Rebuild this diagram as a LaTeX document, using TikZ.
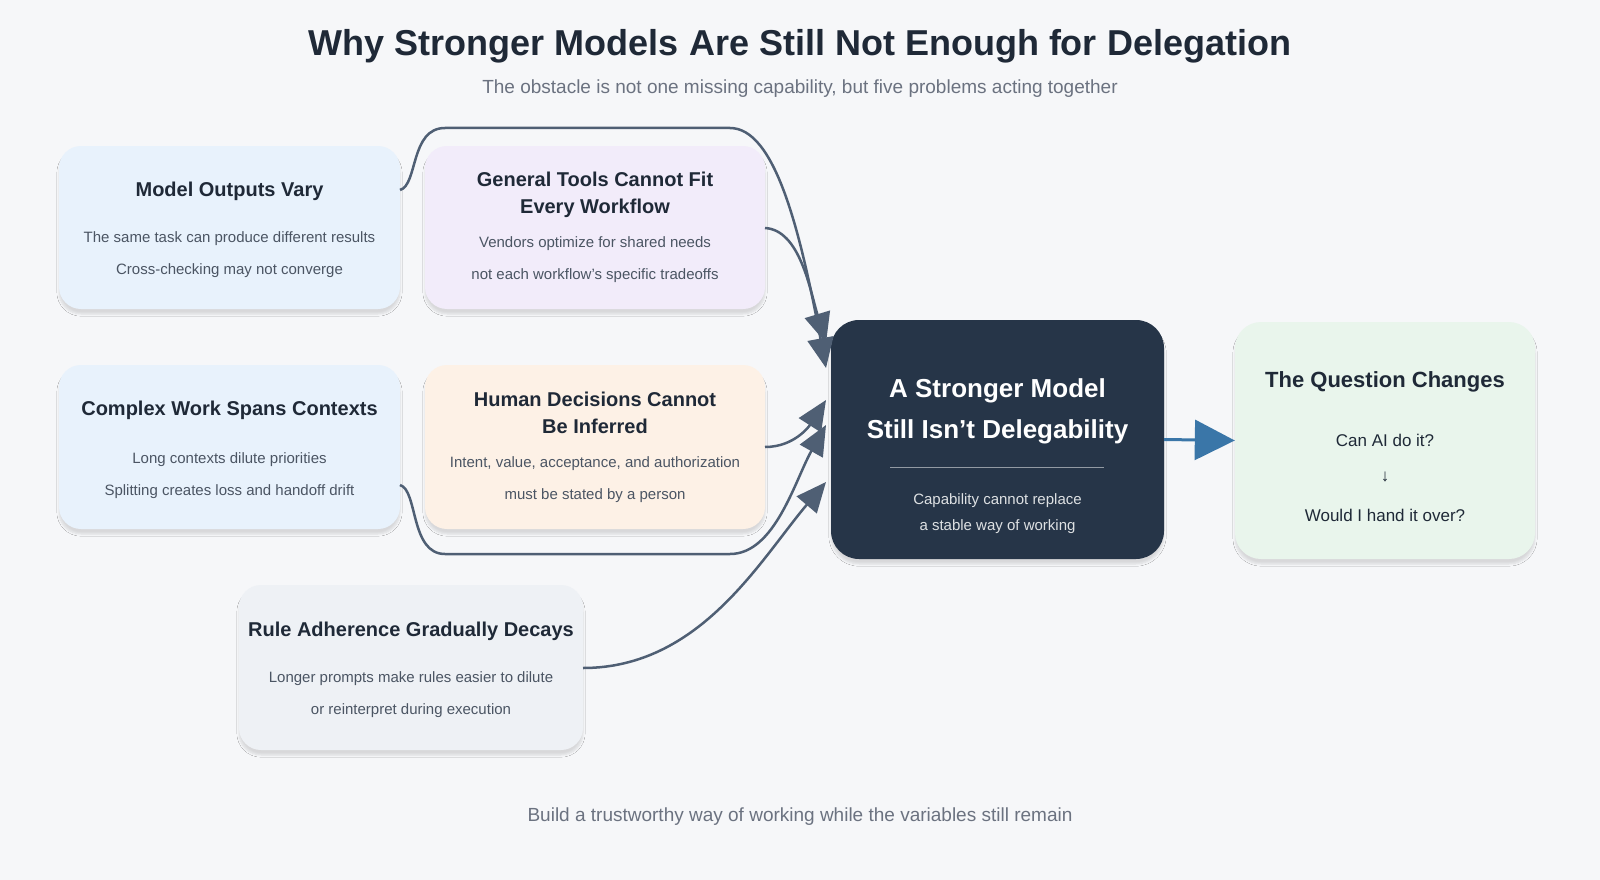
\documentclass[tikz,border=0pt]{standalone}
\usepackage{fontspec}
\setmainfont{Liberation Sans}
\usetikzlibrary{arrows.meta,shadows.blur}
\definecolor{bg}{HTML}{F6F7F9}
\definecolor{ink}{HTML}{1F2937}
\definecolor{sub}{HTML}{4B5563}
\definecolor{mute}{HTML}{6B7280}
\definecolor{cblue}{HTML}{E8F2FC}
\definecolor{cpurp}{HTML}{F2ECFA}
\definecolor{cpeach}{HTML}{FDF1E6}
\definecolor{cgray}{HTML}{EEF1F5}
\definecolor{cgreen}{HTML}{E9F5EC}
\definecolor{dark}{HTML}{263548}
\definecolor{conn}{HTML}{4F5F74}
\definecolor{arrblue}{HTML}{3A76A8}
\tikzset{
  x=1pt,y=1pt,
  box/.style={rounded corners=22pt, draw=none, blur shadow={shadow blur steps=6, shadow xshift=0pt, shadow yshift=-5pt, shadow opacity=12}},
  ttl/.style={font=\bfseries\fontsize{20}{27}\selectfont, text=ink, align=center},
  dsc/.style={font=\fontsize{15}{32}\selectfont, text=sub, align=center},
  link/.style={draw=conn, line width=2.5pt, -{Triangle[length=30pt,width=26pt]}},
}
\begin{document}
\begin{tikzpicture}
\useasboundingbox[fill=bg] (0,0) rectangle (1600,-880);
\node[font=\bfseries\fontsize{36}{40}\selectfont, text=ink] (title) at (800,-46) {Why Stronger Models Are Still Not Enough for Delegation};
\node[font=\fontsize{19}{22}\selectfont, text=mute] (subt) at (800,-89) {The obstacle is not one missing capability, but five problems acting together};

\node[box, fill=cblue, minimum width=341pt, minimum height=163pt] (b1) at (229.5,-227.5) {};
\node[box, fill=cpurp, minimum width=340pt, minimum height=163pt] (b2) at (595,-227.5) {};
\node[box, fill=cblue, minimum width=341pt, minimum height=164pt] (b3) at (229.5,-447) {};
\node[box, fill=cpeach, minimum width=340pt, minimum height=164pt] (b4) at (595,-447) {};
\node[box, fill=cgray, minimum width=344pt, minimum height=165pt] (b5) at (411,-667.5) {};
\node[box, fill=dark, rounded corners=28pt, minimum width=333pt, minimum height=239pt] (c) at (997.5,-439.5) {};
\node[box, fill=cgreen, rounded corners=26pt, minimum width=300pt, minimum height=237pt] (r) at (1385,-440.5) {};

\node[ttl] (t1) at (229.5,-191) {Model Outputs Vary};
\node[dsc] (d1) at (229.5,-255) {The same task can produce different results\\Cross-checking may not converge};
\node[ttl] (t2) at (595,-194.5) {General Tools Cannot Fit\\Every Workflow};
\node[dsc] (d2) at (595,-260) {Vendors optimize for shared needs\\not each workflow’s specific tradeoffs};
\node[ttl] (t3) at (229.5,-410) {Complex Work Spans Contexts};
\node[dsc] (d3) at (229.5,-475.5) {Long contexts dilute priorities\\Splitting creates loss and handoff drift};
\node[ttl] (t4) at (595,-413) {Human Decisions Cannot\\Be Inferred};
\node[dsc] (d4) at (595,-479.5) {Intent, value, acceptance, and authorization\\must be stated by a person};
\node[ttl] (t5) at (411,-631) {Rule Adherence Gradually Decays};
\node[dsc] (d5) at (411,-695) {Longer prompts make rules easier to dilute\\or reinterpret during execution};

\node[font=\bfseries\fontsize{26}{41}\selectfont, text=white, align=center] (ct) at (997.5,-411) {A Stronger Model\\Still Isn’t Delegability};
\draw[draw=white, opacity=0.5, line width=0.8pt] (890,-467) coordinate (l1) -- (1104,-467) coordinate (l2);
\node[font=\fontsize{15}{26}\selectfont, text=white!85!dark, align=center] (cd) at (997.5,-514) {Capability cannot replace\\a stable way of working};

\node[ttl, font=\bfseries\fontsize{22}{27}\selectfont] (rt) at (1385,-382) {The Question Changes};
\node[font=\fontsize{17}{20}\selectfont, text=ink] (q1) at (1385,-440) {Can AI do it?};
\node[font=\fontsize{17}{20}\selectfont, text=ink] (q2) at (1385,-477) {↓};
\node[font=\fontsize{17}{20}\selectfont, text=ink] (q3) at (1385,-515) {Would I hand it over?};

\node[font=\fontsize{19}{22}\selectfont, text=mute] (foot) at (800,-817) {Build a trustworthy way of working while the variables still remain};

\coordinate (s1) at (400,-190);
\coordinate (s2) at (765,-228);
\coordinate (s3) at (400,-485);
\coordinate (s4) at (765,-447);
\coordinate (s5) at (583,-668);
\coordinate (e1) at (826,-368);
\coordinate (e2) at (826,-343);
\coordinate (e3) at (826,-425);
\coordinate (e4) at (826,-400);
\coordinate (e5) at (826,-482);
\draw[link] (s1) .. controls (418,-185) and (410,-128) .. (445,-128) -- (730,-128) .. controls (775,-128) and (800,-230) .. (e1);
\draw[link] (s2) .. controls (800,-230) and (810,-290) .. (e2);
\draw[link] (s3) .. controls (418,-490) and (410,-554) .. (445,-554) -- (730,-554) .. controls (775,-554) and (795,-480) .. (e3);
\draw[link] (s4) .. controls (795,-447) and (810,-425) .. (e4);
\draw[link] (s5) .. controls (700,-668) and (760,-560) .. (e5);
\draw[draw=arrblue, line width=3pt, -{Triangle[length=40pt,width=40pt]}] (c.east) -- (r.west);
\end{tikzpicture}
\end{document}
